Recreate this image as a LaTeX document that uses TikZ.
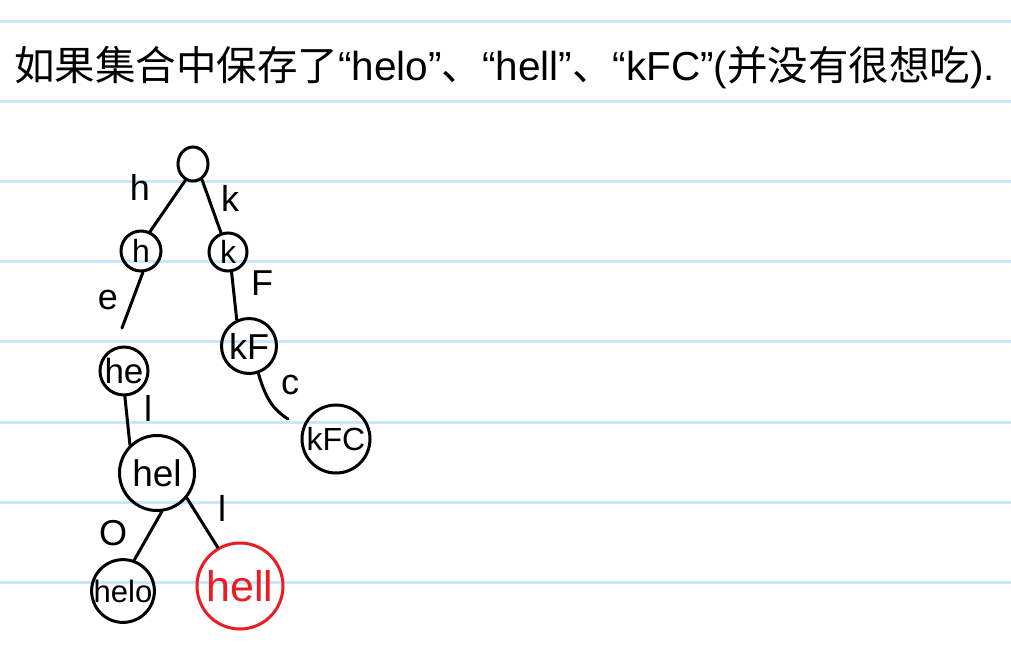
\documentclass[tikz,border=0pt]{standalone}
\usepackage{fontspec}
\usetikzlibrary{shapes.geometric}
\setmainfont{Liberation Sans}
\newfontfamily\cjk{Noto Sans CJK SC}
\definecolor{rulecol}{RGB}{200,232,248}
\definecolor{redink}{RGB}{236,28,36}
\begin{document}
\begin{tikzpicture}[x=1pt,y=-1pt,
  ruled/.style={draw=rulecol,line width=3pt},
  tnode/.style={circle,draw,line width=3pt,inner sep=0pt},
  edge/.style={line width=3pt,line cap=round},
  elabel/.style={inner sep=0pt,font=\fontsize{36}{38}\selectfont}]
\fill[white] (0,0) rectangle (1011,648);
\useasboundingbox (0,0) rectangle (1011,648);
\foreach \yy in {21,101,181.5,261,341.5,422,502,582}
  \draw[ruled] (0,\yy) -- (1011,\yy);
\node[anchor=west,inner sep=0pt,font=\fontsize{40.5}{48}\selectfont] (title) at (14,68)
  {{\cjk 如果集合中保存了}“helo”{\cjk 、}“hell”{\cjk 、}“kFC”({\cjk 并没有很想吃}).};
% trie nodes
\node[draw,line width=3pt,inner sep=0pt,ellipse,minimum width=30pt,minimum height=34pt] (root) at (193,164) {};
\node[tnode,minimum size=40pt,font=\fontsize{32}{34}\selectfont] (h) at (141,251) {h};
\node[tnode,minimum size=38pt,font=\fontsize{32}{34}\selectfont] (k) at (228,252) {k};
\node[tnode,minimum size=48pt,font=\fontsize{35}{37}\selectfont] (he) at (124,371) {he};
\node[tnode,minimum size=55pt,font=\fontsize{36}{38}\selectfont] (kF) at (249,346) {kF};
\node[tnode,minimum size=68pt,font=\fontsize{32}{34}\selectfont] (kFC) at (336,439) {kFC};
\node[tnode,minimum size=75pt,font=\fontsize{37}{39}\selectfont] (hel) at (157,473) {hel};
\node[tnode,minimum size=62pt,font=\fontsize{31}{33}\selectfont] (helo) at (123,591) {helo};
\node[tnode,minimum size=86pt,draw=redink,text=redink,font=\fontsize{43}{45}\selectfont] (hell) at (240,586) {hell};
% free ends
\coordinate (heIn) at (122,328);
\coordinate (kFCin) at (288,419);
% edges
\draw[edge] (root.-115) -- (h.65);
\draw[edge] (root.-60) -- (k.110);
\draw[edge] (h.-85) -- (heIn);
\draw[edge] (k.-80) -- (kF.115);
\draw[edge] (kF.-71) .. controls (266,400) and (274,410) .. (kFCin);
\draw[edge] (he.-88) -- (hel.134);
\draw[edge] (hel.-83) -- (helo.70);
\draw[edge] (hel.-40) -- (hell.120);
% edge labels
\node[elabel] (lh) at (140,187) {h};
\node[elabel] (lk) at (230,198) {k};
\node[elabel] (le) at (108,300) {e};
\node[elabel] (lF) at (262,283) {F};
\node[elabel] (lc) at (290,385) {c};
\node[elabel] (ll1) at (148,408) {l};
\node[elabel] (lO) at (113,533) {O};
\node[elabel] (ll2) at (222,508) {l};
\end{tikzpicture}
\end{document}
